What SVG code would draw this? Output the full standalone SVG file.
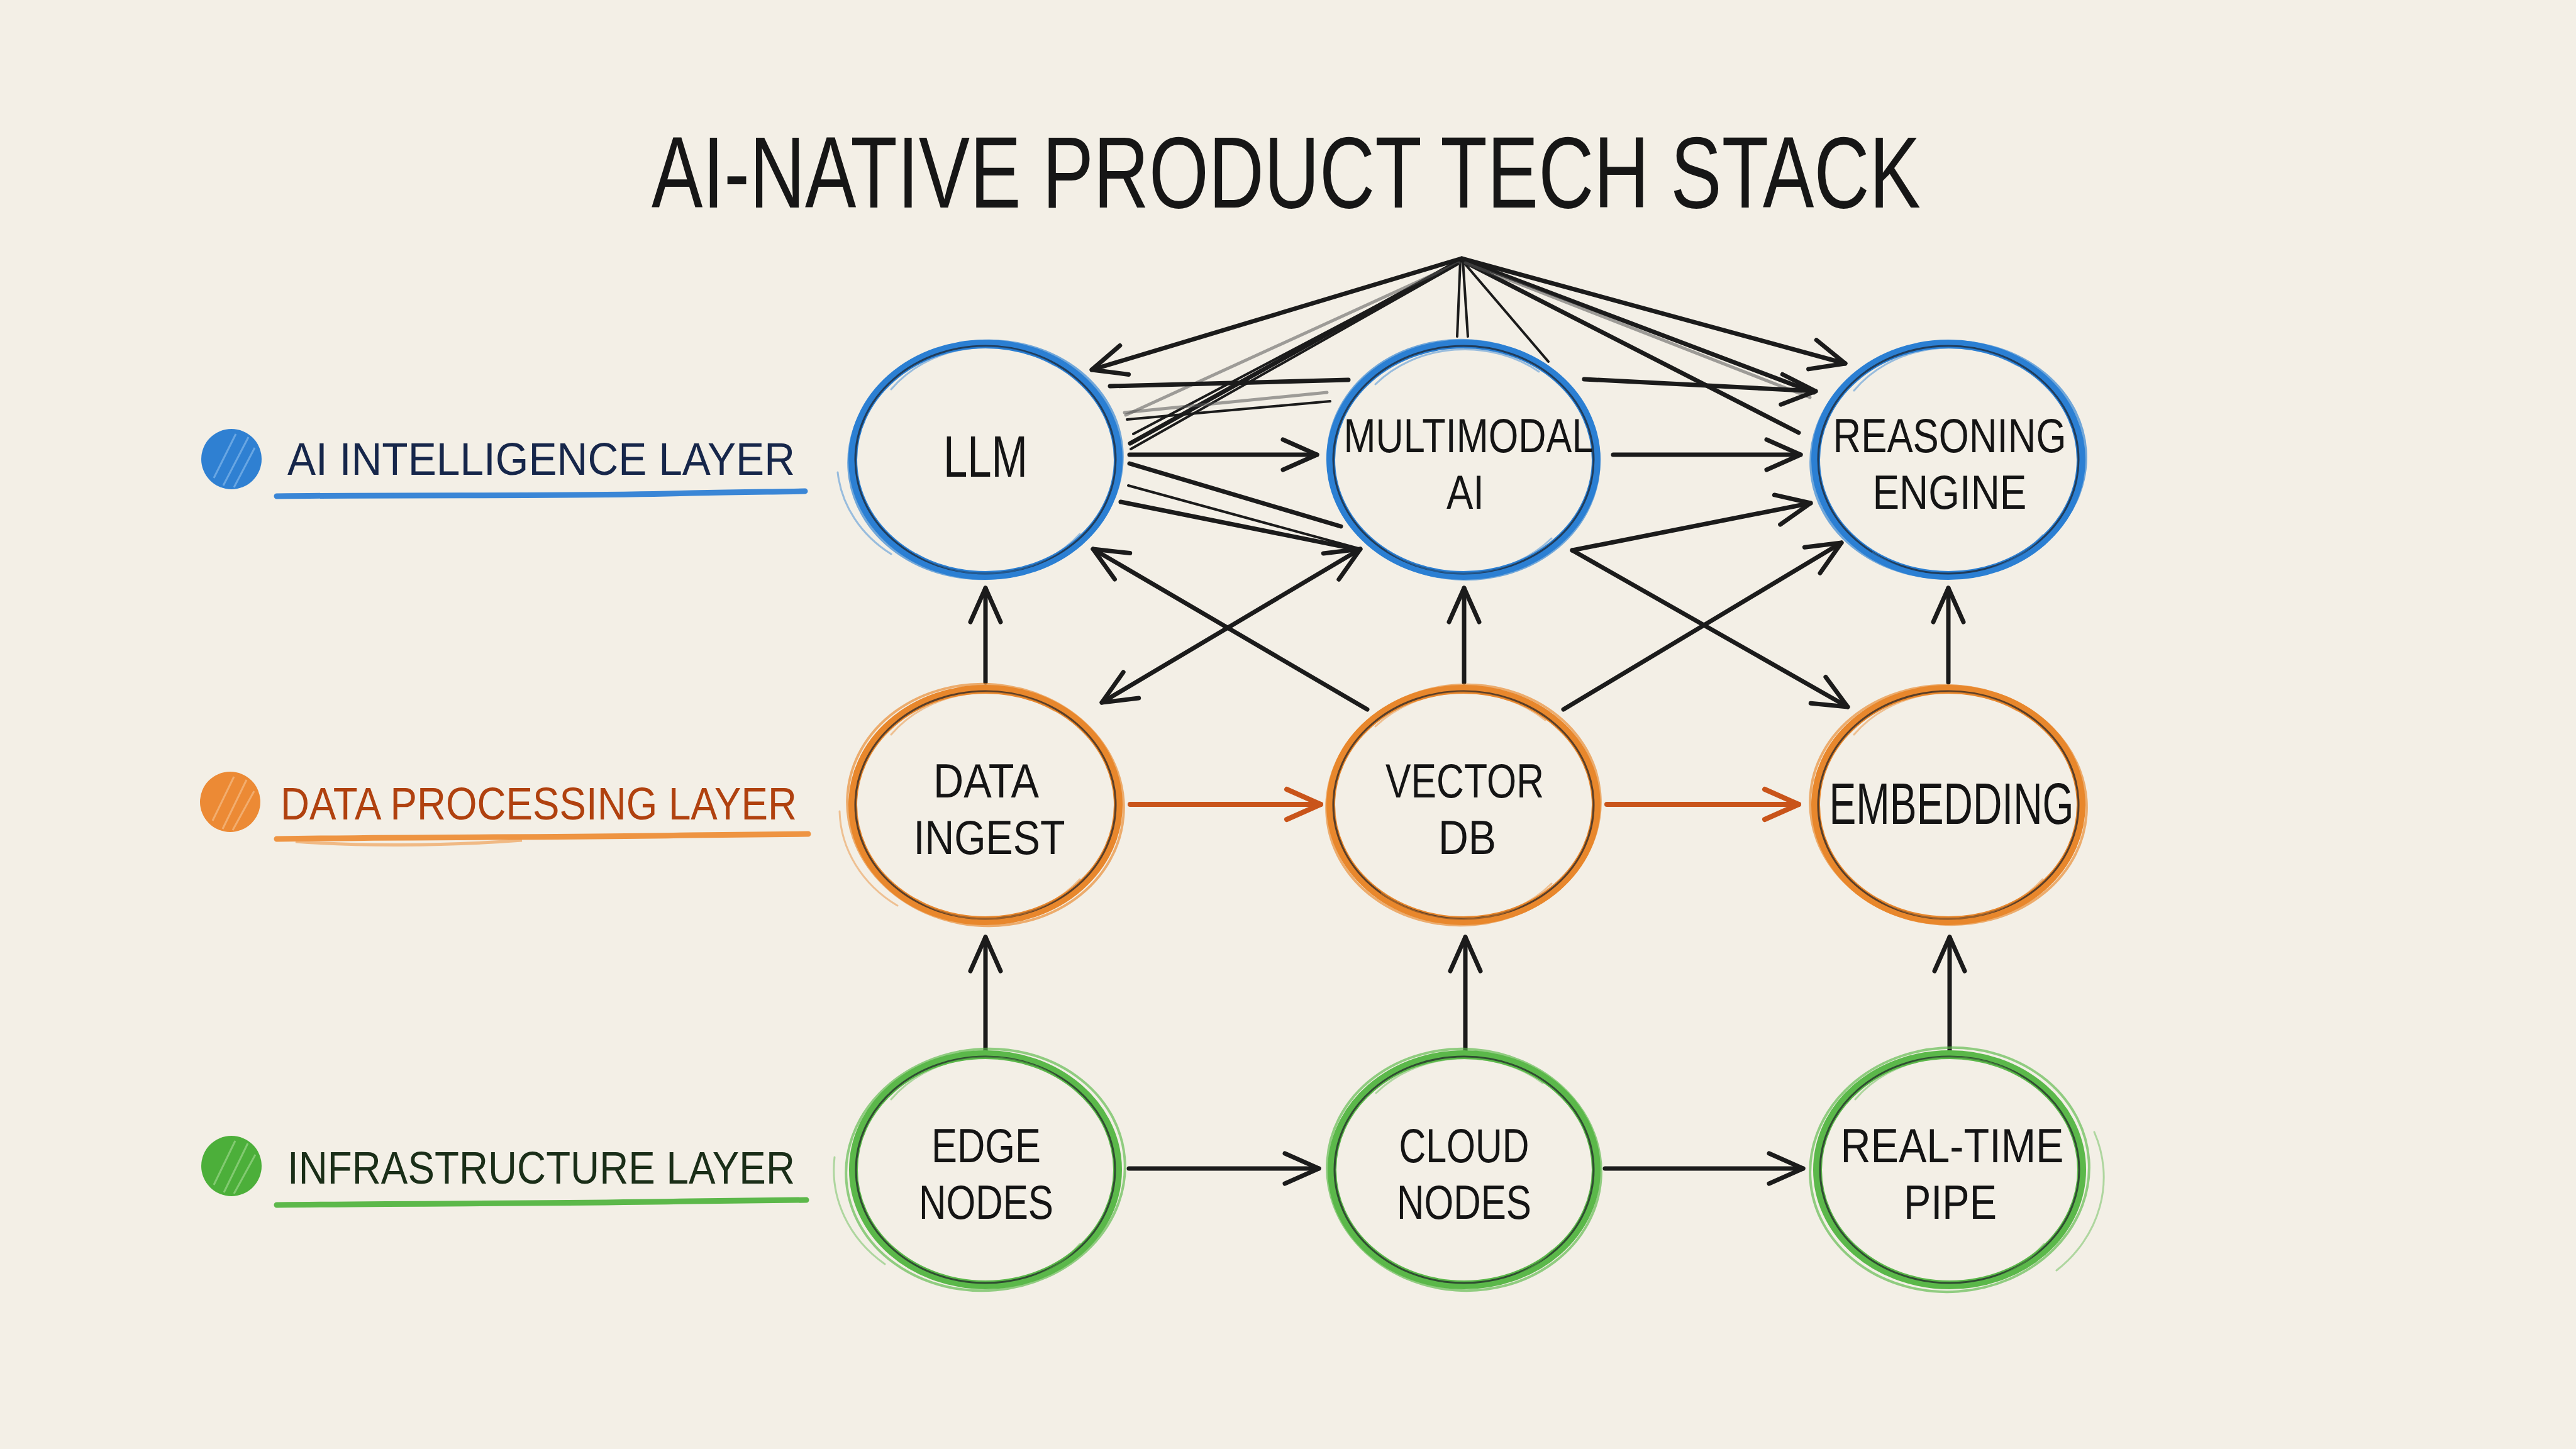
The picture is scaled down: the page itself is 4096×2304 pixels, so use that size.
<svg xmlns="http://www.w3.org/2000/svg" width="4096" height="2304" viewBox="0 0 4096 2304">
<style>
.bg{fill:#f3efe6}
.title{font-family:"Liberation Sans Narrow","Liberation Sans",sans-serif;font-size:162px;fill:#161616}
.lbl{font-family:"Liberation Sans Narrow","Liberation Sans",sans-serif;font-size:76px;fill:#141414;text-anchor:middle}
.lbl1{font-size:92px}
.leg{font-family:"Liberation Sans Narrow","Liberation Sans",sans-serif;font-size:72px}
.ink{fill:none;stroke:#1c2026;stroke-width:3;opacity:.7}
.ring{fill:none;stroke-width:14}
.sk{fill:none;stroke-width:4;opacity:.65}
.sk2{fill:none;stroke-width:3;opacity:.45;stroke-linecap:round}
.blue{stroke:#2b7fd3}
.orange{stroke:#e8872c}
.green{stroke:#5bb84a}
.c{fill:none;stroke:#1b1b1b;stroke-width:7;stroke-linecap:round}
.c-thin{fill:none;stroke:#1b1b1b;stroke-width:4;stroke-linecap:round}
.c-gray{fill:none;stroke:#555;stroke-width:5;stroke-linecap:round;opacity:.55}
.c-or{fill:none;stroke:#c9541a;stroke-width:8;stroke-linecap:round}
.ul{fill:none;stroke-width:9;stroke-linecap:round}
</style>
<defs>
<marker id="ah" viewBox="-4 -4 68 64" markerWidth="68" markerHeight="64" refX="56" refY="26" orient="auto-start-reverse" markerUnits="userSpaceOnUse">
<path d="M2,2 L56,26 L2,50" fill="none" stroke="#1b1b1b" stroke-width="7" stroke-linecap="round" stroke-linejoin="round"/>
</marker>
<marker id="aho" viewBox="-4 -4 68 64" markerWidth="68" markerHeight="64" refX="56" refY="26" orient="auto" markerUnits="userSpaceOnUse">
<path d="M2,2 L56,26 L2,50" fill="none" stroke="#c9541a" stroke-width="8" stroke-linecap="round" stroke-linejoin="round"/>
</marker>
</defs>
<rect class="bg" x="0" y="0" width="4096" height="2304"/>

<text id="title" class="title" x="1036" y="330" textLength="2018" lengthAdjust="spacingAndGlyphs">AI-NATIVE PRODUCT TECH STACK</text>

<g id="legend-ai">
<circle cx="368" cy="730" r="48" fill="#2f80d2"/>
<path d="M340,760 L375,690 M355,772 L395,695 M372,775 L405,712" stroke="#8fc0ee" stroke-width="3" opacity=".6" fill="none"/>
<text class="leg" x="457" y="755" textLength="807" lengthAdjust="spacingAndGlyphs" fill="#16264a">AI INTELLIGENCE LAYER</text>
<path class="ul" stroke="#3a86d6" d="M440,789 C700,786 900,790 1100,784 C1180,782 1240,782 1280,781"/>
</g>
<g id="legend-data">
<circle cx="366" cy="1275" r="48" fill="#ec8a35"/>
<path d="M338,1305 L372,1235 M354,1318 L392,1240 M370,1320 L404,1258" stroke="#f7c594" stroke-width="3" opacity=".6" fill="none"/>
<text class="leg" x="446" y="1303" textLength="821" lengthAdjust="spacingAndGlyphs" fill="#b0410f">DATA PROCESSING LAYER</text>
<path class="ul" stroke="#ee9442" d="M440,1334 C700,1330 900,1332 1100,1328 C1180,1327 1240,1327 1285,1326"/>
<path fill="none" stroke="#ee9442" stroke-width="5" opacity=".6" d="M470,1338 C560,1345 700,1346 830,1336"/>
</g>
<g id="legend-infra">
<circle cx="368" cy="1854" r="48" fill="#4caf3a"/>
<path d="M340,1884 L374,1814 M356,1896 L394,1818 M372,1898 L406,1836" stroke="#a6dc96" stroke-width="3" opacity=".6" fill="none"/>
<text class="leg" x="457" y="1882" textLength="807" lengthAdjust="spacingAndGlyphs" fill="#1a2e18">INFRASTRUCTURE LAYER</text>
<path class="ul" stroke="#5cb84a" d="M440,1916 C700,1913 900,1914 1100,1910 C1180,1909 1240,1909 1282,1908"/>
</g>

<g id="connectors">
<path class="c" marker-end="url(#ah)" d="M2324,411 L1736,588"/>
<path class="c" marker-end="url(#ah)" d="M2324,411 L2934,578"/>
<path class="c-thin" d="M2322,414 L2317,535"/>
<path class="c-thin" d="M2326,414 L2334,535"/>
<path class="c-thin" d="M2328,418 L2462,575"/>
<path class="c" d="M2324,413 L1797,705"/>
<path class="c-thin" d="M2322,416 L1802,690"/>
<path class="c-gray" d="M2320,418 L1790,660"/>
<path class="c-thin" d="M2318,420 L1798,714"/>
<path class="c" d="M2326,413 L2884,624"/>
<path class="c" d="M2328,416 L2860,688"/>
<path class="c-gray" d="M2330,418 L2878,632"/>
<path class="c" d="M1765,614 L2144,604"/>
<path class="c" marker-end="url(#ah)" d="M2519,603 L2887,622"/>
<path class="c" marker-end="url(#ah)" d="M1796,723 L2094,723"/>
<path class="c" marker-end="url(#ah)" d="M2565,723 L2863,723"/>
<path class="c-thin" d="M1792,667 L2115,638"/>
<path class="c-gray" d="M1788,656 L2110,624"/>
<path class="c" d="M1796,737 L2132,837"/>
<path class="c-thin" d="M1794,772 L2160,872"/>
<path class="c" d="M1782,798 L2160,874"/>
<path class="c" marker-end="url(#ah)" d="M2500,875 L2879,800"/>
<path class="c" marker-end="url(#ah)" d="M2174,1128 L1738,873"/>
<path class="c" marker-start="url(#ah)" marker-end="url(#ah)" d="M1752,1117 L2163,873"/>
<path class="c" marker-end="url(#ah)" d="M2486,1128 L2928,863"/>
<path class="c" marker-end="url(#ah)" d="M2500,875 L2938,1124"/>
<path class="c" marker-end="url(#ah)" d="M1567,1085 L1567,935"/>
<path class="c" marker-end="url(#ah)" d="M2328,1085 L2328,935"/>
<path class="c" marker-end="url(#ah)" d="M3098,1085 L3098,935"/>
<path class="c" marker-end="url(#ah)" d="M1567,1675 L1567,1490"/>
<path class="c" marker-end="url(#ah)" d="M2330,1675 L2330,1490"/>
<path class="c" marker-end="url(#ah)" d="M3100,1675 L3100,1490"/>
<path class="c-or" marker-end="url(#aho)" d="M1797,1279 L2100,1279"/>
<path class="c-or" marker-end="url(#aho)" d="M2555,1279 L2860,1279"/>
<path class="c" marker-end="url(#ah)" d="M1795,1858 L2097,1858"/>
<path class="c" marker-end="url(#ah)" d="M2552,1858 L2867,1858"/>
</g>

<g id="node-llm" transform="translate(1567,731)">
<ellipse class="sk blue" rx="218" ry="189" transform="rotate(-5)"/>
<ellipse class="ring blue" rx="211" ry="184"/>
<ellipse class="ink" rx="207" ry="181"/>
<path class="sk2 blue" d="M-150,-112 A190 165 0 0 1 110,-150 M-110,150 A190 165 0 0 0 150,118 M-235,20 A200 180 0 0 0 -150,150"/>
<text class="lbl lbl1" x="0" y="27" textLength="134" lengthAdjust="spacingAndGlyphs">LLM</text>
</g>
<g id="node-multimodal" transform="translate(2327,731)">
<ellipse class="sk blue" rx="216" ry="190" transform="rotate(4)"/>
<ellipse class="ring blue" rx="211" ry="184"/>
<ellipse class="ink" rx="207" ry="181"/>
<path class="sk2 blue" d="M-140,-120 A190 165 0 0 1 120,-140 M-120,145 A190 165 0 0 0 140,125"/>
<text class="lbl"><tspan x="8" y="-12" textLength="397" lengthAdjust="spacingAndGlyphs">MULTIMODAL</tspan><tspan x="3" y="78" textLength="60" lengthAdjust="spacingAndGlyphs">AI</tspan></text>
</g>
<g id="node-reasoning" transform="translate(3098,731)">
<ellipse class="sk blue" rx="219" ry="188" transform="rotate(-4)"/>
<ellipse class="ring blue" rx="211" ry="184"/>
<ellipse class="ink" rx="207" ry="181"/>
<path class="sk2 blue" d="M-150,-110 A190 165 0 0 1 110,-150 M-120,148 A190 165 0 0 0 150,120"/>
<text class="lbl"><tspan x="2" y="-12" textLength="371" lengthAdjust="spacingAndGlyphs">REASONING</tspan><tspan x="2" y="78" textLength="245" lengthAdjust="spacingAndGlyphs">ENGINE</tspan></text>
</g>

<g id="node-ingest" transform="translate(1567,1280)">
<ellipse class="sk orange" rx="220" ry="192" transform="rotate(5)"/>
<ellipse class="ring orange" rx="211" ry="184"/>
<ellipse class="ink" rx="207" ry="181"/>
<path class="sk2 orange" d="M-150,-112 A190 165 0 0 1 110,-150 M-110,150 A190 165 0 0 0 150,118 M-232,10 A205 185 0 0 0 -140,160"/>
<text class="lbl"><tspan x="1" y="-12" textLength="168" lengthAdjust="spacingAndGlyphs">DATA</tspan><tspan x="6" y="78" textLength="241" lengthAdjust="spacingAndGlyphs">INGEST</tspan></text>
</g>
<g id="node-vectordb" transform="translate(2327,1280)">
<ellipse class="sk orange" rx="218" ry="191" transform="rotate(-5)"/>
<ellipse class="ring orange" rx="211" ry="184"/>
<ellipse class="ink" rx="207" ry="181"/>
<path class="sk2 orange" d="M-140,-125 A190 165 0 0 1 130,-135 M-130,140 A190 165 0 0 0 140,125"/>
<text class="lbl"><tspan x="2" y="-12" textLength="252" lengthAdjust="spacingAndGlyphs">VECTOR</tspan><tspan x="6" y="78" textLength="92" lengthAdjust="spacingAndGlyphs">DB</tspan></text>
</g>
<g id="node-embedding" transform="translate(3098,1280)">
<ellipse class="sk orange" rx="220" ry="190" transform="rotate(4)"/>
<ellipse class="ring orange" rx="211" ry="184"/>
<ellipse class="ink" rx="207" ry="181"/>
<path class="sk2 orange" d="M-150,-112 A190 165 0 0 1 110,-150 M-110,150 A190 165 0 0 0 150,118"/>
<text class="lbl lbl1" x="5" y="30" textLength="389" lengthAdjust="spacingAndGlyphs">EMBEDDING</text>
</g>

<g id="node-edge" transform="translate(1567,1860)">
<ellipse class="sk green" rx="222" ry="192" transform="rotate(-5)"/>
<ellipse class="ring green" rx="210" ry="183"/>
<ellipse class="ink" rx="206" ry="180"/>
<path class="sk2 green" d="M-150,-112 A190 165 0 0 1 110,-150 M-120,150 A190 168 0 0 0 150,118 M-240,-20 A210 190 0 0 0 -160,150"/>
<text class="lbl"><tspan x="1" y="-12" textLength="174" lengthAdjust="spacingAndGlyphs">EDGE</tspan><tspan x="1" y="78" textLength="214" lengthAdjust="spacingAndGlyphs">NODES</tspan></text>
</g>
<g id="node-cloud" transform="translate(2328,1860)">
<ellipse class="sk green" rx="218" ry="192" transform="rotate(4)"/>
<ellipse class="ring green" rx="210" ry="183"/>
<ellipse class="ink" rx="206" ry="180"/>
<path class="sk2 green" d="M-140,-122 A190 165 0 0 1 125,-138 M-130,145 A190 168 0 0 0 140,128"/>
<text class="lbl"><tspan x="0" y="-12" textLength="207" lengthAdjust="spacingAndGlyphs">CLOUD</tspan><tspan x="0" y="78" textLength="214" lengthAdjust="spacingAndGlyphs">NODES</tspan></text>
</g>
<g id="node-realtime" transform="translate(3100,1860)">
<ellipse class="sk green" rx="222" ry="194" transform="rotate(-4)"/>
<ellipse class="ring green" rx="210" ry="183"/>
<ellipse class="ink" rx="206" ry="180"/>
<path class="sk2 green" d="M-150,-112 A190 165 0 0 1 110,-150 M-120,150 A190 168 0 0 0 150,118 M230,-60 A215 195 0 0 1 170,160"/>
<text class="lbl"><tspan x="4" y="-12" textLength="355" lengthAdjust="spacingAndGlyphs">REAL-TIME</tspan><tspan x="1" y="78" textLength="148" lengthAdjust="spacingAndGlyphs">PIPE</tspan></text>
</g>
</svg>
